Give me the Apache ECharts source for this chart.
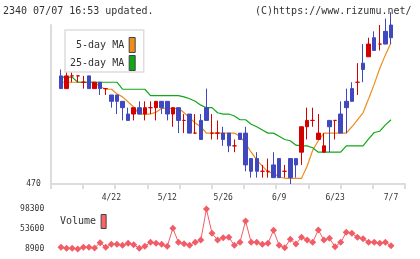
<!DOCTYPE html>
<html><head><meta charset="utf-8">
<script src="https://cdn.jsdelivr.net/npm/echarts@6/dist/echarts.min.js"></script>
<style>html,body{margin:0;padding:0;background:#fff}#c{width:420px;height:259px}</style>
</head><body><div id="c"></div>
<script>
const dates = ['4/9','4/10','4/11','4/14','4/15','4/16','4/17','4/18','4/21','4/22',
 '4/23','4/24','4/25','4/28','5/1','5/2','5/7','5/8','5/9','5/12',
 '5/13','5/14','5/15','5/16','5/19','5/20','5/21','5/22','5/23','5/26',
 '5/27','5/28','5/29','5/30','6/2','6/3','6/4','6/5','6/6','6/9',
 '6/10','6/11','6/12','6/13','6/16','6/17','6/18','6/19','6/20','6/23',
 '6/24','6/25','6/26','6/27','6/30','7/1','7/2','7/3','7/4','7/7'];
const tickLabels = ['4/22','5/12','5/26','6/9','6/23','7/7'];
const open  = [487,485,487,487,486,487,485,486,485,484, 484,483,481,481,482,481,482,482,483,483,
 481,482,480,481,478,480,482,478,478,478, 478,476,478,478,474,474,472,472,473,474,
 472,474,474,475,479,480,477,475,480,480, 481,483,485,486,489,490,493,492,494,495];
const close = [485,487,487,487,486,485,486,485,485,483, 483,482,480,482,481,482,482,483,482,481,
 482,480,480,478,478,477,480,478,478,477, 476,476,477,473,472,472,472,472,471,471,
 472,471,473,479,480,480,478,476,479,480, 478,482,483,486,488,492,491,492,492,493];
const low   = [485,485,486,486,485,485,485,484,484,482, 481,480,480,480,481,480,481,480,481,480,
 479,478,478,478,478,477,480,477,477,476, 475,475,477,472,471,471,471,471,471,471,
 471,470,471,473,477,479,477,475,475,477, 478,478,483,484,486,490,491,491,492,492];
const high  = [488,488,488,487,487,487,486,486,485,484, 484,483,482,482,483,483,483,483,483,483,
 482,482,481,481,481,481,485,481,480,479, 478,477,478,479,474,475,473,474,475,474,
 473,474,474,479,482,482,481,478,480,480, 483,485,486,489,492,493,494,495,496,497];
const ma5 = [486.0,486.0,486.0,486.0,486.0,486.0,486.0,485.3,484.9,484.9,
 484.2,483.7,482.9,482.1,481.0,481.0,481.0,481.3,481.9,481.9,
 481.9,481.9,481.2,480.4,479.6,479.0,478.0,478.0,478.0,478.0,
 478.0,478.0,477.5,476.4,475.0,473.8,472.8,471.9,471.7,471.1,
 470.9,470.9,470.9,470.9,472.8,475.3,476.8,478.0,478.0,478.0,
 478.0,478.0,479.0,480.1,481.2,483.4,485.7,488.2,490.3,492.2];
const ma25 = [486.8,486.8,486.8,486.0,486.0,486.0,486.0,486.0,486.0,486.0,
 486.0,484.9,484.9,484.9,484.9,484.9,483.9,483.9,483.9,483.9,
 483.9,483.9,483.7,483.4,483.0,482.4,482.0,482.0,481.2,481.0,
 481.0,480.7,480.1,480.1,479.4,479.0,478.5,478.0,478.0,477.5,
 477.0,476.8,476.1,476.0,476.0,475.7,475.0,475.0,475.0,475.0,
 475.0,476.0,476.0,476.0,476.0,477.1,478.1,478.3,479.3,480.1];
const volume = [12600,10400,10400,8900,12600,12600,11100,23100,12600,19300,
 19300,17100,21600,18600,10400,14900,23800,21600,19300,14900,
 55100,23800,20800,17100,23800,29000,98300,43900,29000,34200,
 35000,17100,23800,71500,23800,23800,19300,21600,50600,17100,
 11900,30500,20100,35000,29000,23800,51400,29000,32700,14100,
 23800,46200,43900,35000,32000,23800,23800,21600,23800,16400];
const volTicks = [8900, 53600, 98300];
const priceMin = 470, priceMax = 495;

const RED = '#d40000', BLUE = '#4048c0', ORANGE = '#f08c1c', GREEN = '#10a818', VOL = '#f25c66';
const AXIS = '#dcdcdc', TXT = '#333', MONO = '"DejaVu Sans Mono", monospace';

const candleData = dates.map((d, i) => {
  const item = { value: [open[i], close[i], low[i], high[i]] };
  if (open[i] === close[i]) item.itemStyle = { color: RED, color0: RED, borderColor: RED, borderColor0: RED };
  return item;
});

const chart = echarts.init(document.getElementById('c'), null, { renderer: 'canvas' });
chart.setOption({
  animation: false,
  backgroundColor: '#fff',
  textStyle: { fontFamily: MONO },
  title: [
    { text: '2340 07/07 16:53 updated.', left: 3, top: 6, padding: 0,
      textStyle: { fontSize: 10, fontWeight: 'normal', color: TXT, fontFamily: MONO } },
    { text: '(C)https://www.rizumu.net/', left: 255, top: 6, padding: 0,
      textStyle: { fontSize: 10, fontWeight: 'normal', color: TXT, fontFamily: MONO } }
  ],
  legend: [
    { orient: 'vertical', left: 65, top: 30, align: 'right', itemWidth: 6, itemHeight: 15, itemGap: 2,
      padding: [7, 8, 1, 5], borderColor: '#dddddd', borderWidth: 1.5, backgroundColor: '#fff',
      selectedMode: false,
      formatter: n => n.padStart(9, ' '),
      textStyle: { fontSize: 10, color: TXT, fontFamily: MONO },
      data: [
        { name: '5-day MA', icon: 'rect', itemStyle: { color: ORANGE, borderColor: '#444', borderWidth: 1 } },
        { name: '25-day MA', icon: 'rect', itemStyle: { color: GREEN, borderColor: '#444', borderWidth: 1 } }
      ] },
    { orient: 'vertical', left: 60, top: 214, align: 'right', itemWidth: 5, itemHeight: 14, padding: 0,
      selectedMode: false,
      textStyle: { fontSize: 10, color: TXT, fontFamily: MONO },
      data: [{ name: 'Volume', icon: 'rect', itemStyle: { color: '#ff6464', borderColor: '#444', borderWidth: 1 } }] }
  ],
  grid: [
    { left: 50.7, right: 15, top: 25, bottom: 75 },
    { left: 58.2, right: 26.2, top: 25, bottom: 75 },
    { left: 58.2, right: 26.2, top: 209, bottom: 10 }
  ],
  xAxis: [
    { gridIndex: 0, type: 'value', min: 0, max: 11, interval: 1,
      axisLine: { show: true, lineStyle: { color: AXIS, width: 2 } },
      axisTick: { show: true, length: 5, lineStyle: { color: AXIS, width: 2 } },
      axisLabel: { show: false }, splitLine: { show: false } },
    { gridIndex: 1, type: 'category', data: dates, boundaryGap: true,
      axisLine: { show: false }, axisTick: { show: false }, splitLine: { show: false },
      axisLabel: { interval: (idx, val) => tickLabels.indexOf(val) >= 0,
        formatter: v => tickLabels.indexOf(v) >= 0 ? v : '',
        fontSize: 8, color: TXT, fontFamily: MONO, margin: 10 } },
    { gridIndex: 2, type: 'category', data: dates, boundaryGap: true, show: false }
  ],
  yAxis: [
    { gridIndex: 0, type: 'value', min: priceMin, max: priceMax, interval: priceMax - priceMin,
      axisLine: { show: true, lineStyle: { color: AXIS, width: 2 } },
      axisTick: { show: false }, splitLine: { show: false },
      axisLabel: { showMaxLabel: false, fontSize: 8, color: TXT, fontFamily: MONO, margin: 10,
        formatter: v => String(v) } },
    { gridIndex: 1, type: 'value', min: priceMin, max: priceMax, show: false },
    { gridIndex: 2, type: 'value', min: volTicks[0], max: volTicks[2], interval: volTicks[1] - volTicks[0],
      axisLine: { show: false }, axisTick: { show: false }, splitLine: { show: false },
      axisLabel: { fontSize: 8, color: TXT, fontFamily: MONO, margin: 14, formatter: v => String(v) } }
  ],
  series: [
    { name: '5-day MA', type: 'line', xAxisIndex: 1, yAxisIndex: 1, data: ma5, symbol: 'none', z: 1,
      lineStyle: { color: ORANGE, width: 1.2 }, itemStyle: { color: ORANGE } },
    { name: '25-day MA', type: 'line', xAxisIndex: 1, yAxisIndex: 1, data: ma25, symbol: 'none', z: 1,
      lineStyle: { color: GREEN, width: 1.2 }, itemStyle: { color: GREEN } },
    { name: 'Price', type: 'candlestick', xAxisIndex: 1, yAxisIndex: 1, data: candleData, barWidth: 4, z: 3,
      clip: true,
      itemStyle: { color: RED, color0: BLUE, borderColor: RED, borderColor0: BLUE, borderWidth: 1 } },
    { name: 'Volume', type: 'line', xAxisIndex: 2, yAxisIndex: 2, data: volume, symbol: 'diamond',
      symbolSize: 7, showAllSymbol: true,
      lineStyle: { color: VOL, width: 1 }, itemStyle: { color: VOL } }
  ]
});
</script></body></html>
